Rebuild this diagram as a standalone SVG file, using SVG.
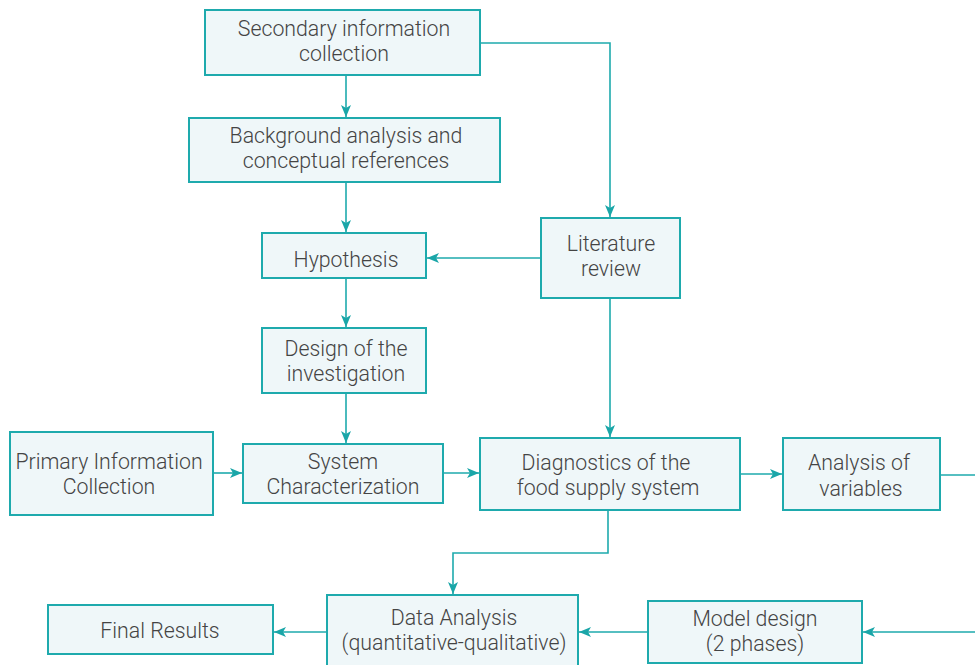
<svg xmlns="http://www.w3.org/2000/svg" width="975" height="665" viewBox="0 0 975 665">
<style>
.box{fill:#eff7f9;stroke:#1eaaad;stroke-width:2}
.t{font-family:Roboto,"Liberation Sans",sans-serif;font-weight:300;font-size:21.3px;fill:#444;text-anchor:middle}
.c{fill:none;stroke:#1eaaad;stroke-width:1.6}
</style>
<defs>
<marker id="ah" viewBox="0 0 12 10" refX="12" refY="5" markerWidth="12" markerHeight="10" markerUnits="userSpaceOnUse" orient="auto">
<path d="M0,0 L12,5 L0,10 L3,5 Z" fill="#1aa6a8"/>
</marker>
</defs>
<rect width="975" height="665" fill="#fff"/>
<g id="connectors">
<path class="c" d="M346,75 V117" marker-end="url(#ah)"/>
<path class="c" d="M480,43 H610 V217" marker-end="url(#ah)"/>
<path class="c" d="M346,182 V232" marker-end="url(#ah)"/>
<path class="c" d="M541,258 H427" marker-end="url(#ah)"/>
<path class="c" d="M346,278 V327" marker-end="url(#ah)"/>
<path class="c" d="M346,393 V443" marker-end="url(#ah)"/>
<path class="c" d="M610,298 V437" marker-end="url(#ah)"/>
<path class="c" d="M213,473 H242" marker-end="url(#ah)"/>
<path class="c" d="M443,473 H479" marker-end="url(#ah)"/>
<path class="c" d="M740,474 H782" marker-end="url(#ah)"/>
<path class="c" d="M940,475 H975"/>
<path class="c" d="M975,632 H863" marker-end="url(#ah)"/>
<path class="c" d="M608,510 V553 H453 V594" marker-end="url(#ah)"/>
<path class="c" d="M648,632 H579" marker-end="url(#ah)"/>
<path class="c" d="M327,632 H274" marker-end="url(#ah)"/>
</g>
<g id="secondary"><rect class="box" x="205" y="10" width="275" height="65"/><text class="t" x="344" y="36">Secondary information</text><text class="t" x="344" y="61">collection</text></g>
<g id="background"><rect class="box" x="189" y="118" width="311" height="64"/><text class="t" x="346" y="143">Background analysis and</text><text class="t" x="346" y="168">conceptual references</text></g>
<g id="hypothesis"><rect class="box" x="262" y="233" width="164" height="45"/><text class="t" x="346" y="267">Hypothesis</text></g>
<g id="design"><rect class="box" x="262" y="328" width="164" height="65"/><text class="t" x="346" y="356">Design of the</text><text class="t" x="346" y="381">investigation</text></g>
<g id="literature"><rect class="box" x="541" y="218" width="139" height="80"/><text class="t" x="611" y="251">Literature</text><text class="t" x="611" y="276">review</text></g>
<g id="primary"><rect class="box" x="10" y="432" width="203" height="83"/><text class="t" x="109" y="469">Primary Information</text><text class="t" x="109" y="494">Collection</text></g>
<g id="system"><rect class="box" x="243" y="444" width="200" height="59"/><text class="t" x="343" y="469">System</text><text class="t" x="343" y="494">Characterization</text></g>
<g id="diagnostics"><rect class="box" x="480" y="438" width="260" height="72"/><text class="t" x="606" y="470">Diagnostics of the</text><text class="t" x="608" y="495">food supply system</text></g>
<g id="variables"><rect class="box" x="783" y="438" width="157" height="72"/><text class="t" x="859" y="470">Analysis of</text><text class="t" x="861" y="496">variables</text></g>
<g id="final"><rect class="box" x="48" y="605" width="225" height="49"/><text class="t" x="160" y="638">Final Results</text></g>
<g id="data"><rect class="box" x="327" y="595" width="251" height="72"/><text class="t" x="454" y="625">Data Analysis</text><text class="t" x="454" y="650">(quantitative-qualitative)</text></g>
<g id="model"><rect class="box" x="648" y="601" width="214" height="62"/><text class="t" x="755" y="626">Model design</text><text class="t" x="755" y="651">(2 phases)</text></g>
</svg>
